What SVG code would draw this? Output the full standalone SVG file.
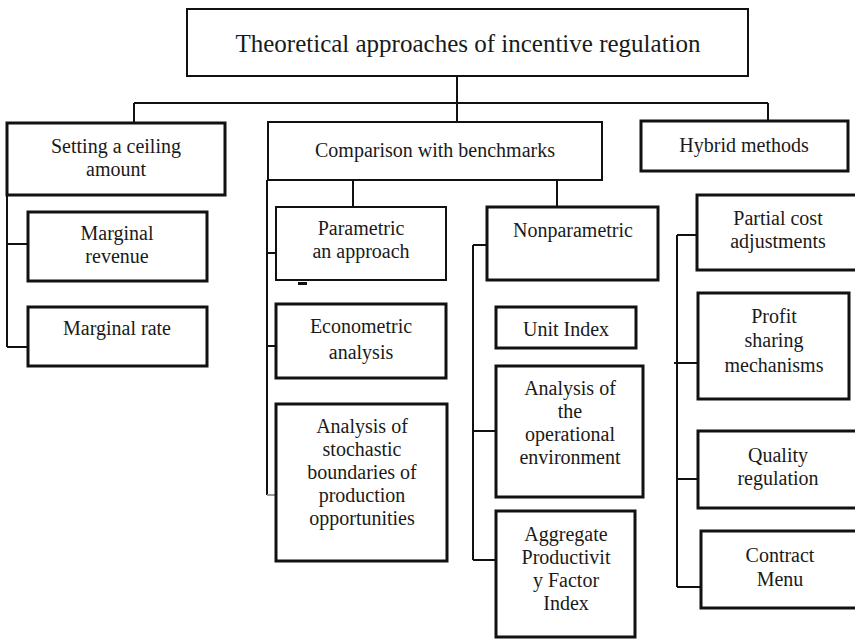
<svg xmlns="http://www.w3.org/2000/svg" width="855" height="639" viewBox="0 0 855 639" font-family="Liberation Serif, serif">
<style>
.box{fill:#fff;stroke:#111;stroke-width:3}
.thin{fill:#fff;stroke:#111;stroke-width:2}
.ln{fill:none;stroke:#111;stroke-width:2}
text{font-size:20px;fill:#1a1a1a;text-anchor:middle}
</style>
<rect width="855" height="639" fill="#fff"/>
<g id="connectors">
<path class="ln" d="M457,76 V103 M134,103 H768 M134,103 V123 M457,103 V122 M768,103 V121"/>
<path class="ln" d="M7,195 V347 M7,244 H28 M7,347 H28"/>
<path class="ln" d="M267,180 V495 M267,253 H276 M267,346 H276 M353,180 V207 M557,180 V207"/>
<path d="M267,495 H276" fill="none" stroke="#999" stroke-width="2"/>
<rect x="298" y="282" width="9" height="3" fill="#111"/>
<path class="ln" d="M473,245 V560 M473,245 H497 M473,431 H496 M473,560 H496"/>
<path class="ln" d="M677,235 V587 M677,235 H697 M674,363 H698 M677,479 H698 M677,587 H701"/>
</g>
<g id="root"><rect class="thin" x="187" y="9" width="561" height="67"/><text x="468" y="52" style="font-size:25px">Theoretical approaches of incentive regulation</text></g>
<g id="ceiling"><rect class="box" x="7" y="123" width="218" height="72"/><text x="116" y="153">Setting a ceiling</text><text x="116" y="176">amount</text></g>
<g id="comparison"><rect class="thin" x="268" y="122" width="334" height="58"/><text x="435" y="157">Comparison with benchmarks</text></g>
<g id="hybrid"><rect class="box" x="641" y="121" width="207" height="50"/><text x="744" y="152">Hybrid methods</text></g>
<g id="marginal-revenue"><rect class="box" x="28" y="212" width="179" height="69"/><text x="117" y="240">Marginal</text><text x="117" y="263">revenue</text></g>
<g id="marginal-rate"><rect class="box" x="28" y="307" width="179" height="59"/><text x="117" y="335">Marginal rate</text></g>
<g id="parametric"><rect class="thin" x="276" y="207" width="170" height="73"/><text x="361" y="235">Parametric</text><text x="361" y="258">an approach</text></g>
<g id="econometric"><rect class="box" x="276" y="304" width="170" height="74"/><text x="361" y="333">Econometric</text><text x="361" y="359">analysis</text></g>
<g id="stochastic"><rect class="box" x="276" y="404" width="171" height="157"/><text x="362" y="433">Analysis of</text><text x="362" y="456">stochastic</text><text x="362" y="479">boundaries of</text><text x="362" y="502">production</text><text x="362" y="525">opportunities</text></g>
<g id="nonparametric"><rect class="box" x="487" y="207" width="171" height="73"/><text x="573" y="237">Nonparametric</text></g>
<g id="unit-index"><rect class="box" x="496" y="307" width="140" height="41"/><text x="566" y="336">Unit Index</text></g>
<g id="operational"><rect class="box" x="496" y="366" width="147" height="131"/><text x="570" y="395">Analysis of</text><text x="570" y="418">the</text><text x="570" y="441">operational</text><text x="570" y="464">environment</text></g>
<g id="aggregate"><rect class="box" x="496" y="511" width="139" height="126"/><text x="566" y="541">Aggregate</text><text x="566" y="564">Productivit</text><text x="566" y="587">y Factor</text><text x="566" y="610">Index</text></g>
<g id="partial"><rect class="box" x="697" y="195" width="162" height="75"/><text x="778" y="225">Partial cost</text><text x="778" y="248">adjustments</text></g>
<g id="profit"><rect class="box" x="698" y="293" width="151" height="106"/><text x="774" y="323">Profit</text><text x="774" y="347">sharing</text><text x="774" y="372">mechanisms</text></g>
<g id="quality"><rect class="box" x="698" y="431" width="162" height="77"/><text x="778" y="462">Quality</text><text x="778" y="485">regulation</text></g>
<g id="contract"><rect class="box" x="701" y="531" width="162" height="77"/><text x="780" y="562">Contract</text><text x="780" y="586">Menu</text></g>
</svg>
